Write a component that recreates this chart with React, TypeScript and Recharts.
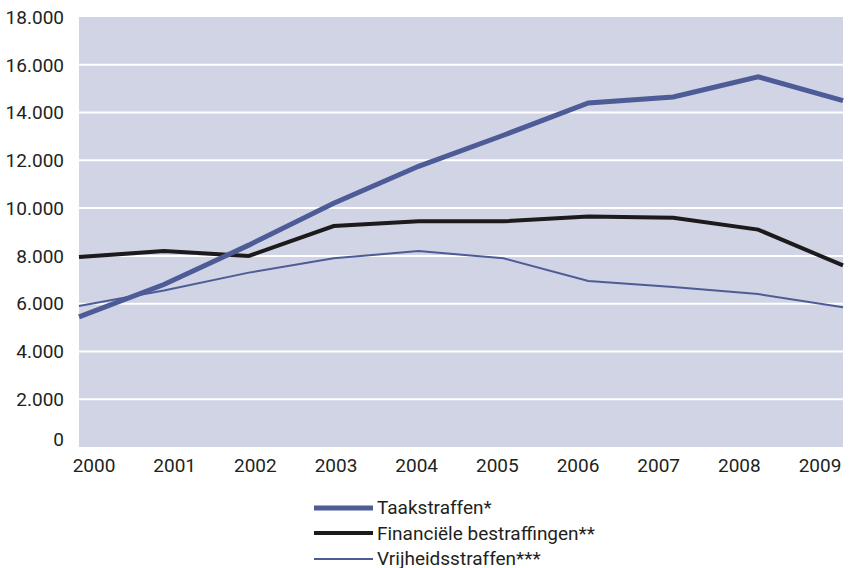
import React from 'react';
import { LineChart, Line, XAxis, YAxis, CartesianGrid } from 'recharts';

const years = ['2000', '2001', '2002', '2003', '2004', '2005', '2006', '2007', '2008', '2009'];
const taakstraffen = [5450, 6800, 8450, 10200, 11750, 13050, 14400, 14650, 15500, 14500];
const financieel = [7950, 8200, 8000, 9250, 9450, 9450, 9650, 9600, 9100, 7600];
const vrijheid = [5900, 6550, 7300, 7900, 8200, 7900, 6950, 6700, 6400, 5850];
const yTicks = [0, 2000, 4000, 6000, 8000, 10000, 12000, 14000, 16000, 18000];
const gridValues = [2000, 4000, 6000, 8000, 10000, 12000, 14000, 16000];

const BLUE = '#4d5c96';
const BLACK = '#1c1a1b';
const TEXT = '#231f20';
const FONT = 'Roboto, sans-serif';

const series = [
  { key: 'taak', name: 'Taakstraffen*', color: BLUE, width: 5 },
  { key: 'fin', name: 'Financiële bestraffingen**', color: BLACK, width: 4 },
  { key: 'vrij', name: 'Vrijheidsstraffen***', color: BLUE, width: 2 },
];

const data = years.map((y, i) => ({
  year: y,
  taak: taakstraffen[i],
  fin: financieel[i],
  vrij: vrijheid[i],
}));

// dutch thousands separator
const fmt = (v: number) => String(v).replace(/\B(?=(\d{3})+(?!\d))/g, '.');

const YTick = (props: any) => {
  const { x, y, payload } = props;
  const lift = payload.value === 0 ? -8 : 0;
  return (
    <text x={x} y={y + lift} dy="0.355em" textAnchor="end" fill={TEXT} fontSize={19} fontFamily={FONT}>
      {fmt(payload.value)}
    </text>
  );
};

const App: React.FC = () => {
  return (
    <div style={{ position: 'absolute', left: 0, top: 0, width: 851, height: 568, background: '#fff', fontFamily: FONT }}>
      <LineChart width={851} height={568} data={data} margin={{ top: 17, right: 8, bottom: 91, left: 0 }}>
        <CartesianGrid
          xAxisId="pts"
          vertical={false}
          horizontalValues={gridValues}
          stroke="#ffffff"
          strokeWidth={2}
          fill="#d0d4e5"
          fillOpacity={1}
        />
        <XAxis xAxisId="pts" dataKey="year" hide />
        {/* labels sit slightly inside the line ends in the original */}
        <XAxis
          xAxisId="lbl"
          dataKey="year"
          padding={{ left: 15, right: 23 }}
          interval={0}
          axisLine={false}
          tickLine={false}
          tickSize={0}
          tickMargin={12}
          height={30}
          tick={{ fill: TEXT, fontSize: 19, fontFamily: FONT }}
        />
        <YAxis
          type="number"
          domain={[0, 18000]}
          ticks={yTicks}
          interval={0}
          width={79}
          axisLine={false}
          tickLine={false}
          tickSize={0}
          tickMargin={15}
          tick={<YTick />}
        />
        <Line xAxisId="pts" type="linear" dataKey="fin" name={series[1].name} stroke={BLACK} strokeWidth={4} dot={false} isAnimationActive={false} />
        <Line xAxisId="pts" type="linear" dataKey="vrij" name={series[2].name} stroke={BLUE} strokeWidth={2} dot={false} isAnimationActive={false} />
        <Line xAxisId="pts" type="linear" dataKey="taak" name={series[0].name} stroke={BLUE} strokeWidth={5} dot={false} isAnimationActive={false} />
      </LineChart>

      {/* legend */}
      <div style={{ position: 'absolute', left: 314, top: 495 }}>
        {series.map((s) => (
          <div key={s.key} style={{ display: 'flex', alignItems: 'center', height: 25.5 }}>
            <svg width={59} height={10} style={{ display: 'block' }}>
              <line x1={0} y1={5} x2={59} y2={5} stroke={s.color} strokeWidth={s.width} />
            </svg>
            <span style={{ marginLeft: 4, fontSize: 19, color: TEXT, lineHeight: '25px', whiteSpace: 'nowrap' }}>{s.name}</span>
          </div>
        ))}
      </div>
    </div>
  );
};

export default App;
